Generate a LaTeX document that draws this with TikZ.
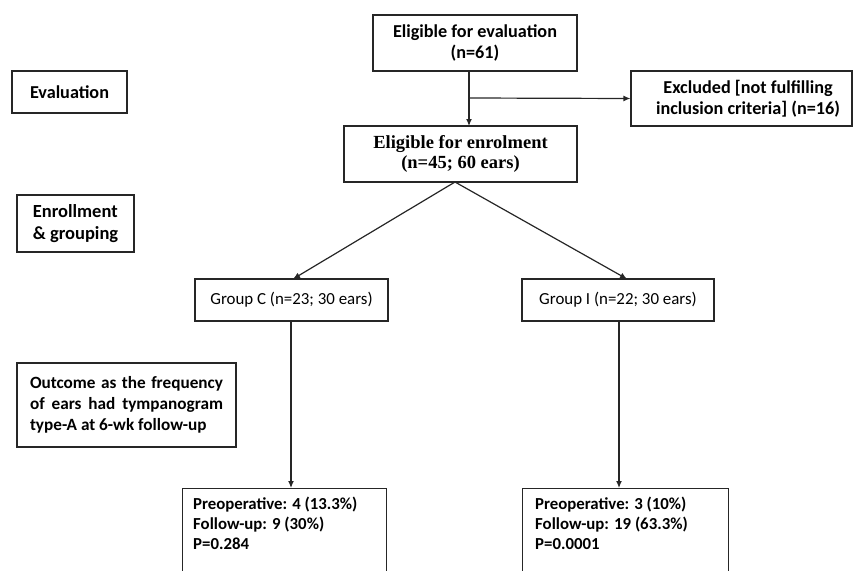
\documentclass[tikz,border=0pt]{standalone}
\usepackage{fontspec}
\setmainfont{Carlito}
\newfontfamily\timesf{Liberation Serif}
\usetikzlibrary{arrows.meta}
\begin{document}
\begin{tikzpicture}[x=1pt,y=-1pt,
  frame/.style={draw=black!85, line width=1.2pt, inner sep=0pt},
  lbl/.style={inner sep=0pt, align=center, font=\fontsize{18.2}{21.5}\selectfont\bfseries},
  lblr/.style={inner sep=0pt, align=center, font=\fontsize{16.9}{20}\selectfont},
  lbll/.style={inner sep=0pt, align=left, font=\fontsize{18.5}{21.5}\selectfont\bfseries},
  resl/.style={inner sep=0pt, align=left, font=\fontsize{16.8}{20}\selectfont\bfseries},
  serifb/.style={inner sep=0pt, align=center, font=\fontsize{18.5}{20}\selectfont\timesf\bfseries},
  arr/.style={draw=black!85, line width=1.2pt, -{Latex[length=7pt,width=6pt]}},
  ln/.style={draw=black!85, line width=1.2pt}]
\useasboundingbox (0,0) rectangle (853,570);
\clip (0,0) rectangle (853,570);
% left stage labels
\node[frame, minimum width=115pt, minimum height=42pt] (eval) at (69.5,92) {};
\node[lbl] (evalt) at (eval.center) {Evaluation};
\node[frame, minimum width=117pt, minimum height=57pt] (enr) at (75.5,223.5) {};
\node[lbll] (enrt) at (enr.center) {Enrollment\\\& grouping};
\node[frame, minimum width=219pt, minimum height=84pt] (outc) at (126.5,405) {};
\node[inner sep=0pt, text width=193pt, align=justify, font=\fontsize{17.2}{21}\selectfont\bfseries] (outct) at (outc.center) {Outcome as the frequency of ears had tympanogram type-A at 6-wk follow-up};
% main flow
\node[frame, minimum width=204pt, minimum height=56pt] (elig) at (475,43) {};
\node[lbl] (eligt) at (elig.center) {Eligible for evaluation\\(n=61)};
\node[frame, minimum width=221pt, minimum height=55pt] (excl) at (741.5,98.5) {};
\node[lbl] (exclt) at (748,98.5) {Excluded [not fulfilling\\inclusion criteria] (n=16)};
\node[frame, minimum width=233pt, minimum height=56pt] (enrol) at (460.5,154) {};
\node[serifb] (enrolt) at (enrol.center) {Eligible for enrolment\\(n=45; 60 ears)};
\node[frame, minimum width=193pt, minimum height=42pt] (gc) at (291.5,300) {};
\node[lblr] (gct) at (gc.center) {Group C (n=23; 30 ears)};
\node[frame, minimum width=192pt, minimum height=42pt] (gi) at (618,300) {};
\node[lblr] (git) at (gi.center) {Group I (n=22; 30 ears)};
\node[frame, minimum width=204pt, minimum height=110pt, anchor=north west] (rc) at (182,488) {};
\node[resl, anchor=north west] (rct) at (193,497) {Preoperative: 4 (13.3\%)\\Follow-up: 9 (30\%)\\P=0.284};
\node[frame, minimum width=206pt, minimum height=110pt, anchor=north west] (ri) at (522,488) {};
\node[resl, anchor=north west] (rit) at (535,497) {Preoperative: 3 (10\%)\\Follow-up: 19 (63.3\%)\\P=0.0001};
% connectors
\coordinate (e1) at (469,71);
\coordinate (e2) at (469,126);
\coordinate (br) at (469,98);
\draw[arr] (e1) -- (e2);
\draw[arr] (br) -- (excl.west);
\coordinate (apex) at (455,182);
\coordinate (gctop) at (293,279);
\coordinate (gitop) at (627,279);
\draw[arr] (apex) -- (gctop);
\draw[arr] (apex) -- (gitop);
\coordinate (gcb) at (291,321);
\coordinate (rct0) at (291,488);
\coordinate (gib) at (619,321);
\coordinate (rit0) at (619,488);
\draw[arr] (gcb) -- (rct0);
\draw[arr] (gib) -- (rit0);
\end{tikzpicture}
\end{document}
